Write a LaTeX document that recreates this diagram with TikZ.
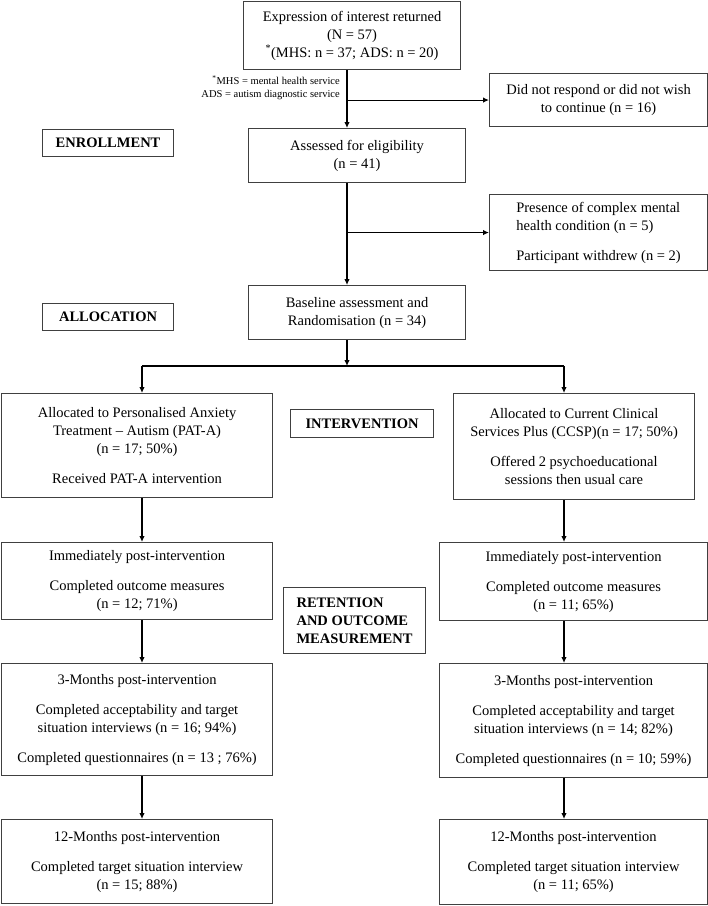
\documentclass[tikz,border=0pt]{standalone}
\usepackage{fontspec}
\setmainfont{Liberation Serif}
\usetikzlibrary{arrows.meta}

\tikzset{
  box/.style={draw=black!75, line width=1.1pt, anchor=north west, align=center,
    inner sep=0pt, font=\fontsize{14.5}{18}\selectfont},
  stage/.style={box, font=\fontsize{14.5}{18}\selectfont\bfseries},
  note/.style={align=right, inner sep=0pt, font=\fontsize{10.5}{13}\selectfont},
  arr/.style={-{Latex[length=6pt,width=5.5pt]}, line width=1.1pt},
}

\begin{document}
\begin{tikzpicture}[x=1pt, y=-1pt]
      \useasboundingbox (0,0) rectangle (708,906);

      % Guide coordinates
      \coordinate (spine) at (347,0);
      \coordinate (leftcol) at (142,0);
      \coordinate (rightcol) at (564,0);
      \coordinate (split) at (347,366);

      % Enrollment
      \node[box, minimum width=217pt, minimum height=68pt] (interest) at (243,1)
        {Expression of interest returned\\(N = 57)\\\textsuperscript{*}(MHS: n = 37; ADS: n = 20)};
      \node[note, anchor=east] (legend) at (340,87.5)
        {\textsuperscript{*}MHS = mental health service\\ADS = autism diagnostic service};
      \node[box, minimum width=218pt, minimum height=53pt] (didnot) at (489,73)
        {Did not respond or did not wish\\to continue (n = 16)};
      \node[stage, minimum width=131pt, minimum height=27pt] (enrol) at (42,129) {ENROLLMENT};
      \node[box, minimum width=217pt, minimum height=54pt] (assessed) at (248,128)
        {Assessed for eligibility\\(n = 41)};
      \node[box, align=left, minimum width=218pt, minimum height=76pt] (presence) at (489,194)
        {Presence of complex mental\\health condition (n = 5)\\[12pt]Participant withdrew (n = 2)};

      % Allocation
      \node[stage, minimum width=131pt, minimum height=27pt] (alloc) at (42,303) {ALLOCATION};
      \node[box, minimum width=217pt, minimum height=54pt] (baseline) at (248,285)
        {Baseline assessment and\\Randomisation (n = 34)};
      \node[box, minimum width=271pt, minimum height=104pt] (patA) at (1,393)
        {Allocated to Personalised Anxiety\\Treatment -- Autism (PAT-A)\\(n = 17; 50\%)\\[12pt]Received PAT-A intervention};
      \node[stage, minimum width=143pt, minimum height=28pt] (interv) at (290,409) {INTERVENTION};
      \node[box, minimum width=241pt, minimum height=106pt] (ccsp) at (453,393)
        {Allocated to Current Clinical\\Services Plus (CCSP)(n = 17; 50\%)\\[12pt]Offered 2 psychoeducational\\sessions then usual care};

      % Retention and outcome measurement
      \node[box, minimum width=271pt, minimum height=77pt] (postA) at (1,542)
        {Immediately post-intervention\\[12pt]Completed outcome measures\\(n = 12; 71\%)};
      \node[box, minimum width=268pt, minimum height=78pt] (postC) at (439,542)
        {Immediately post-intervention\\[12pt]Completed outcome measures\\(n = 11; 65\%)};
      \node[stage, align=left, minimum width=142pt, minimum height=66pt] (retain) at (283,587)
        {RETENTION\\AND OUTCOME\\MEASUREMENT};
      \node[box, minimum width=271pt, minimum height=112pt] (threeA) at (1,663)
        {3-Months post-intervention\\[12pt]Completed acceptability and target\\situation interviews (n = 16; 94\%)\\[12pt]Completed questionnaires (n = 13 ; 76\%)};
      \node[box, minimum width=268pt, minimum height=114pt] (threeC) at (439,663)
        {3-Months post-intervention\\[12pt]Completed acceptability and target\\situation interviews (n = 14; 82\%)\\[12pt]Completed questionnaires (n = 10; 59\%)};
      \node[box, minimum width=271pt, minimum height=84pt] (twelveA) at (1,819)
        {12-Months post-intervention\\[12pt]Completed target situation interview\\(n = 15; 88\%)};
      \node[box, minimum width=268pt, minimum height=85pt] (twelveC) at (439,819)
        {12-Months post-intervention\\[12pt]Completed target situation interview\\(n = 11; 65\%)};

      % Main flow
      \draw[arr] (interest.south -| spine) -- (assessed.north -| spine);
      \draw[arr] (didnot.west -| spine) -- (didnot.west);
      \draw[arr] (assessed.south -| spine) -- (baseline.north -| spine);
      \draw[arr] (presence.west -| spine) -- (presence.west);
      \draw[arr] (baseline.south -| spine) -- (split);

      % Split into two arms
      \draw[line width=1.1pt] (split -| leftcol) -- (split -| rightcol);
      \draw[arr] (split -| leftcol) -- (patA.north -| leftcol);
      \draw[arr] (split -| rightcol) -- (ccsp.north -| rightcol);

      % Follow-up arrows
      \foreach \a/\b in {patA/postA, postA/threeA, threeA/twelveA}
      \draw[arr] (\a.south -| leftcol) -- (\b.north -| leftcol);
      \foreach \a/\b in {ccsp/postC, postC/threeC, threeC/twelveC}
      \draw[arr] (\a.south -| rightcol) -- (\b.north -| rightcol);
    \end{tikzpicture}
\end{document}
